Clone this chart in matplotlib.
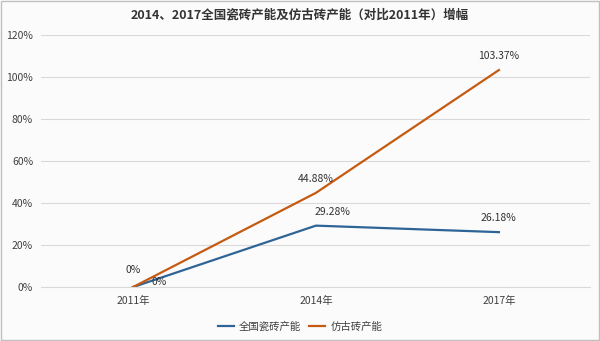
import matplotlib.pyplot as plt

plt.rcParams['font.family'] = ['Noto Sans CJK SC', 'DejaVu Sans']

years = ['2011年', '2014年', '2017年']
all_tile = [0, 29.28, 26.18]
antique_tile = [0, 44.88, 103.37]
all_labels = ['0%', '29.28%', '26.18%']
antique_labels = ['0%', '44.88%', '103.37%']

fig = plt.figure(figsize=(6, 3.41), dpi=100)
fig.patch.set_facecolor('#fbfbfb')
ax = fig.add_axes([0.069, 0.158, 0.915, 0.739])
ax.set_facecolor('#fbfbfb')

x = [0.5, 1.5, 2.5]
ax.plot(x, all_tile, color='#2f6496', lw=1.6, label='全国瓷砖产能')
ax.plot(x, antique_tile, color='#c55a11', lw=1.6, label='仿古砖产能')

# data labels
ax.annotate(all_labels[0], (x[0], all_tile[0]), xytext=(19, 4), textcoords='offset points',
            ha='center', va='center', fontsize=7.5, color='#333333')
ax.annotate(antique_labels[0], (x[0], antique_tile[0]), xytext=(0, 12), textcoords='offset points',
            ha='center', va='center', fontsize=7.5, color='#333333')
ax.annotate(all_labels[1], (x[1], all_tile[1]), xytext=(12, 10), textcoords='offset points',
            ha='center', va='center', fontsize=7.5, color='#333333')
ax.annotate(antique_labels[1], (x[1], antique_tile[1]), xytext=(0, 10), textcoords='offset points',
            ha='center', va='center', fontsize=7.5, color='#333333')
ax.annotate(all_labels[2], (x[2], all_tile[2]), xytext=(0, 10), textcoords='offset points',
            ha='center', va='center', fontsize=7.5, color='#333333')
ax.annotate(antique_labels[2], (x[2], antique_tile[2]), xytext=(0, 10), textcoords='offset points',
            ha='center', va='center', fontsize=7.5, color='#333333')

ax.set_xlim(0, 3)
ax.set_ylim(0, 120)
ax.set_xticks(x)
ax.set_xticklabels(years)
ax.set_yticks(range(0, 121, 20))
ax.set_yticklabels([f'{v}%' for v in range(0, 121, 20)])
ax.grid(axis='y', color='#d9d9d9', lw=0.8)
ax.set_axisbelow(True)
for s in ['top', 'right', 'left']:
    ax.spines[s].set_visible(False)
ax.spines['bottom'].set_color('#d9d9d9')
ax.tick_params(length=0, labelsize=7.5, colors='#404040', pad=6)

fig.suptitle('2014、2017全国瓷砖产能及仿古砖产能（对比2011年）增幅', x=0.5, y=0.975,
             fontsize=9, fontweight='bold', color='#333333')
fig.legend(loc='lower center', bbox_to_anchor=(0.5, 0.0), ncol=2, frameon=False,
           fontsize=7.5, labelcolor='#404040', handlelength=1.5, columnspacing=0.8,
           handletextpad=0.5)

fig.add_artist(plt.Rectangle((0.002, 0.003), 0.996, 0.994, transform=fig.transFigure,
                             fill=False, edgecolor='#c0c0c0', lw=1))

fig.savefig('out.png', dpi=100, facecolor=fig.get_facecolor())
